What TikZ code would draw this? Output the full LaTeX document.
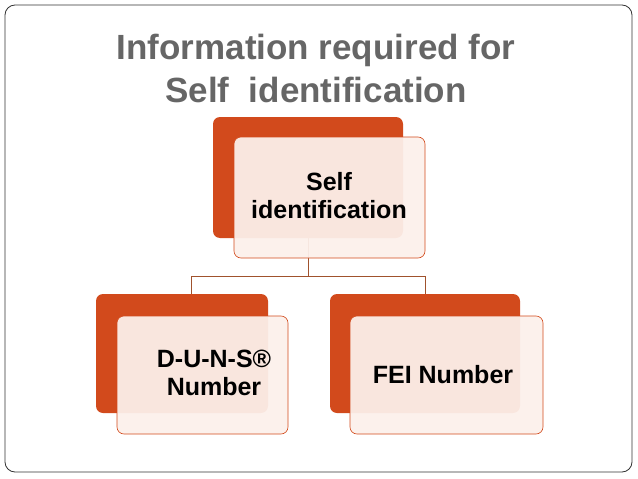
\documentclass[tikz,border=0pt]{standalone}
\usepackage{fontspec}
\setmainfont{Liberation Sans}
\begin{document}
\begin{tikzpicture}[x=1pt,y=-1pt,
  back/.style={fill=orgc,rounded corners=7pt},
  front/.style={fill=pinkc,fill opacity=0.94,draw=orgc,line width=0.6pt,rounded corners=7pt},
  lbl/.style={font=\bfseries\fontsize{25}{28}\selectfont,align=center,text=black},
  conn/.style={draw=brownc,line width=0.6pt}]
\definecolor{orgc}{HTML}{D24A1C}
\definecolor{pinkc}{HTML}{FCF0EB}
\definecolor{brownc}{HTML}{A0522D}
\definecolor{grayt}{HTML}{666666}
\useasboundingbox (0,0) rectangle (638,479);
\draw[black!80,line width=0.8pt,rounded corners=10pt] (5,5) rectangle (632,472);
\node[font=\bfseries\fontsize{35}{43}\selectfont,text=grayt,align=center] (title) at (316,68) {Information required for\\Self\ \ identification};
% connectors
\coordinate (j) at (308,276);
\coordinate (jl) at (191,276);
\coordinate (jr) at (425,276);
\draw[conn] (308,238) -- (j) (jl) -- (jr) (jl) -- (191,295) (jr) -- (425,295);
% top
\fill[back] (213,117) rectangle (403,238);
\draw[front] (234,137) rectangle (425,258);
\node[lbl] (self) at (329,196) {Self\\identification};
% left
\fill[back] (96,294) rectangle (268,413);
\draw[front] (117,316) rectangle (288,434);
\node[lbl] (duns) at (214,373) {D-U-N-S®\\Number};
% right
\fill[back] (330,294) rectangle (520,413);
\draw[front] (350,316) rectangle (543,434);
\node[lbl] (fei) at (443,375) {FEI Number};
\end{tikzpicture}
\end{document}
